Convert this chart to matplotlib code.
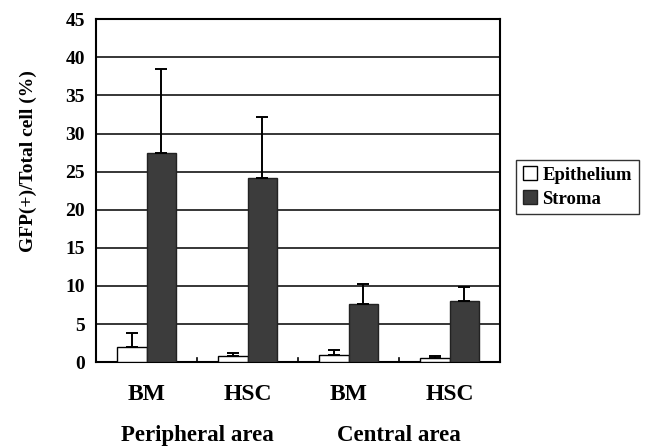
import numpy as np
import matplotlib
matplotlib.use('Agg')
import matplotlib.pyplot as plt

# 数据
groups = ['BM', 'HSC', 'BM', 'HSC']
areas = ['Peripheral area', 'Central area']
epithelium = [2.0, 0.8, 1.0, 0.5]
epithelium_err = [1.85, 0.4, 0.6, 0.35]
stroma = [27.5, 24.1, 7.6, 8.0]
stroma_err = [10.9, 8.0, 2.6, 1.9]
yticks = list(range(0, 50, 5))

plt.rcParams['font.family'] = ['Liberation Serif', 'DejaVu Serif']
plt.rcParams['font.weight'] = 'bold'

fig = plt.figure(figsize=(6.58, 4.46), dpi=100)
ax = fig.add_axes([0.146, 0.188, 0.614, 0.769])

x = np.arange(len(groups))
w = 0.29
err_kw = dict(capsize=4, elinewidth=1.4, capthick=1.4, ecolor='black')
ax.bar(x - w / 2, epithelium, w, color='white', edgecolor='black', linewidth=1,
       yerr=[np.zeros(len(groups)), epithelium_err], error_kw=err_kw,
       label='Epithelium', zorder=3)
ax.bar(x + w / 2, stroma, w, color='#3c3c3c', edgecolor='#222222', linewidth=1,
       yerr=[np.zeros(len(groups)), stroma_err], error_kw=err_kw,
       label='Stroma', zorder=3)

ax.set_xlim(-0.5, len(groups) - 0.5)
ax.set_ylim(0, 45)
ax.set_yticks(yticks)
ax.yaxis.grid(True, color='black', linewidth=1.1, zorder=0)
ax.set_axisbelow(True)
for s in ax.spines.values():
    s.set_linewidth(1.5)

ax.set_xticks(x)
ax.set_xticklabels(groups, fontsize=17, fontweight='bold')
ax.tick_params(axis='x', length=0, pad=16)
ax.tick_params(axis='y', length=0, pad=8, labelsize=14)
for t in ax.get_yticklabels():
    t.set_fontweight('bold')

# 组间小刻度
for b in [0.5, 1.5, 2.5]:
    ax.plot([b, b], [0, 0.6], color='black', linewidth=1.2, zorder=4, clip_on=False)

# 区域标签
for i, name in enumerate(areas):
    ax.text(2 * i + 0.5, -9.6, name, ha='center', va='center', fontsize=16.5,
            fontweight='bold', transform=ax.transData)

fig.text(28 / 658, 1 - 161 / 446, 'GFP(+)/Total cell (%)', rotation=90,
         ha='center', va='center', fontsize=14, fontweight='bold')

leg = ax.legend(loc='upper left', bbox_to_anchor=(1.04, 0.59), frameon=True,
                fancybox=False, edgecolor='black', handlelength=0.75,
                handleheight=0.75, handletextpad=0.3, borderpad=0.35,
                labelspacing=0.35, borderaxespad=0,
                prop={'size': 13.5, 'weight': 'bold'})
leg.get_frame().set_linewidth(1.0)

fig.savefig('out.png', dpi=100)
